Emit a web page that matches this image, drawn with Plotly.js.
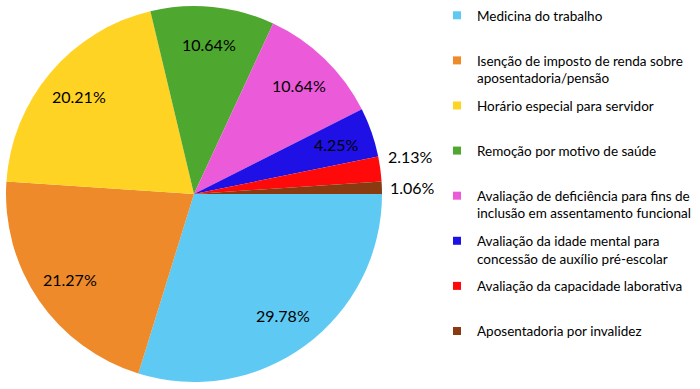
<!DOCTYPE html>
<html><head><meta charset="utf-8">
<script src="https://cdn.plot.ly/plotly-3.0.1.min.js"></script>
<style>html,body{margin:0;padding:0;background:#fff}</style>
</head><body><div id="chart" style="width:700px;height:389px"></div>
<script>
const categories = [
  "Medicina do trabalho",
  "Isenção de imposto de renda sobre<br>aposentadoria/pensão",
  "Horário especial para servidor",
  "Remoção por motivo de saúde",
  "Avaliação de deficiência para fins de<br>inclusão em assentamento funcional",
  "Avaliação da idade mental para<br>concessão de auxílio pré-escolar",
  "Avaliação da capacidade laborativa",
  "Aposentadoria por invalidez"
];
const values = [29.78, 21.27, 20.21, 10.64, 10.64, 4.25, 2.13, 1.06];
const colors = ["#5ECAF4", "#EE8A2A", "#FFD324", "#4EA72E", "#EB5AD8", "#1F10E6", "#FF0A0A", "#8A3A10"];
const outsideLabel = [false, false, false, false, false, false, true, true];
const FONT = "Lato, 'Open Sans', sans-serif";

const W = 700, H = 389;
const CX = 194, CY = 194, R = 188;

// legend entries: single-line names padded to two lines
const legendNames = categories.map(c => c.includes("<br>") ? c : c + "<br> ");

const traces = [{
  type: "pie",
  labels: categories,
  values: values,
  sort: false,
  direction: "clockwise",
  rotation: 90,
  marker: {colors: colors, line: {width: 0}},
  textinfo: "none",
  hoverinfo: "none",
  showlegend: false,
  domain: {x: [(CX - R) / W, (CX + R) / W], y: [1 - (CY + R) / H, 1 - (CY - R) / H]}
}];
legendNames.forEach((n, i) => traces.push({
  type: "scatter", mode: "markers", x: [null], y: [null],
  name: n, legendgroup: "g" + i, showlegend: true,
  marker: {symbol: "square", size: 8, color: colors[i]}
}));

// data labels placed from cumulative slice angles
const total = values.reduce((a, b) => a + b, 0);
const annotations = [];
let cum = 0;
values.forEach((v, i) => {
  const mid = (cum + v / 2) / total * 2 * Math.PI; // clockwise from 3 o'clock
  cum += v;
  const out = outsideLabel[i];
  const r = out ? R * 1.03 : R * 0.8;
  let px = CX + r * Math.cos(mid);
  let py = CY + r * Math.sin(mid);
  if (out && i === 6) py -= 12;
  annotations.push({
    xref: "paper", yref: "paper",
    x: px / W, y: 1 - py / H,
    xanchor: out ? "left" : "center", yanchor: "middle",
    text: v.toFixed(2) + "%", showarrow: false,
    font: {family: FONT, size: 16, color: "#000"}
  });
});

Plotly.newPlot("chart", traces, {
  width: W, height: H,
  margin: {l: 0, r: 0, t: 0, b: 0},
  paper_bgcolor: "#fff", plot_bgcolor: "rgba(0,0,0,0)",
  xaxis: {visible: false}, yaxis: {visible: false},
  showlegend: true,
  annotations: annotations,
  legend: {
    x: 437 / W, xanchor: "left", y: 1.0, yanchor: "top",
    font: {family: FONT, size: 13.5, color: "#000"},
    valign: "top", tracegroupgap: 7, traceorder: "grouped",
    bgcolor: "rgba(0,0,0,0)"
  }
}, {displayModeBar: false, staticPlot: true});
</script></body></html>
